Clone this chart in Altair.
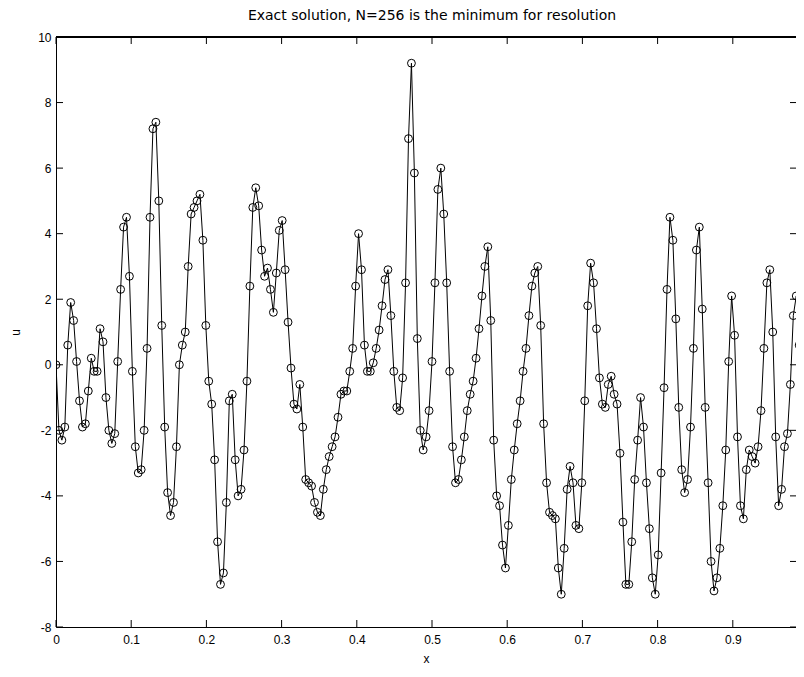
import altair as alt
import pandas as pd

N = 256
u_values = [
    0.0, -2.0, -2.3, -1.9, 0.6, 1.9, 1.35, 0.1, -1.1, -1.9,
    -1.8, -0.8, 0.2, -0.2, -0.2, 1.1, 0.7, -1.0, -2.0, -2.4,
    -2.1, 0.1, 2.3, 4.2, 4.5, 2.7, -0.2, -2.5, -3.3, -3.2,
    -2.0, 0.5, 4.5, 7.2, 7.4, 5.0, 1.2, -1.9, -3.9, -4.6,
    -4.2, -2.5, 0.0, 0.6, 1.0, 3.0, 4.6, 4.8, 5.0, 5.2,
    3.8, 1.2, -0.5, -1.2, -2.9, -5.4, -6.7, -6.35, -4.2, -1.1,
    -0.9, -2.9, -4.0, -3.8, -2.6, -0.5, 2.4, 4.8, 5.4, 4.85,
    3.5, 2.7, 2.95, 2.3, 1.6, 2.8, 4.1, 4.4, 2.9, 1.3,
    -0.1, -1.2, -1.35, -0.6, -1.9, -3.5, -3.6, -3.7, -4.2, -4.5,
    -4.6, -3.8, -3.2, -2.8, -2.5, -2.2, -1.6, -0.9, -0.8, -0.8,
    -0.2, 0.5, 2.4, 4.0, 2.9, 0.6, -0.2, -0.2, 0.06, 0.5,
    1.06, 1.8, 2.6, 2.9, 1.5, -0.2, -1.3, -1.4, -0.4, 2.5,
    6.9, 9.2, 5.85, 0.8, -2.0, -2.6, -2.2, -1.4, 0.1, 2.5,
    5.35, 6.0, 4.6, 2.5, -0.2, -2.5, -3.6, -3.5, -2.9, -2.2,
    -1.4, -0.9, -0.5, 0.2, 1.1, 2.1, 3.0, 3.6, 1.35, -2.3,
    -4.0, -4.3, -5.5, -6.2, -4.9, -3.5, -2.6, -1.8, -1.1, -0.2,
    0.5, 1.5, 2.4, 2.8, 3.0, 1.2, -1.8, -3.6, -4.5, -4.6,
    -4.7, -6.2, -7.0, -5.6, -3.8, -3.1, -3.6, -4.9, -5.0, -3.6,
    -1.1, 1.8, 3.1, 2.5, 1.1, -0.4, -1.2, -1.3, -0.6, -0.35,
    -0.9, -1.2, -2.7, -4.8, -6.7, -6.7, -5.4, -3.5, -2.3, -1.0,
    -1.9, -3.6, -5.0, -6.5, -7.0, -5.8, -3.3, -0.7, 2.3, 4.5,
    3.8, 1.4, -1.3, -3.2, -3.9, -3.5, -1.9, 0.5, 3.5, 4.2,
    1.7, -1.3, -3.6, -6.0, -6.9, -6.5, -5.6, -4.3, -2.6, 0.1,
    2.1, 0.9, -2.2, -4.3, -4.7, -3.2, -2.6, -2.8, -3.0, -2.5,
    -1.4, 0.5, 2.5, 2.9, 1.0, -2.2, -4.3, -3.8, -2.5, -2.1,
    -0.6, 1.5, 2.1, 0.6, -0.3, -0.6,
]
x_values = [i / N for i in range(N)]
x_ticks = [0, 0.1, 0.2, 0.3, 0.4, 0.5, 0.6, 0.7, 0.8, 0.9]
y_ticks = [-8, -6, -4, -2, 0, 2, 4, 6, 8, 10]

W, H = 740, 590
PX_PER_UNIT = 752
XMAX = W / PX_PER_UNIT
FONT = "Liberation Sans"

df = pd.DataFrame({"x": x_values, "u": u_values})
xt = pd.DataFrame({"x": x_ticks})
yt = pd.DataFrame({"u": y_ticks})

xs = alt.Scale(domain=[0, XMAX], nice=False, zero=False)
ys = alt.Scale(domain=[-8, 10], nice=False, zero=False)

x_axis = alt.Axis(values=x_ticks, title="x", ticks=False, grid=False,
                  domainColor="black", labelColor="black", labelFontSize=12,
                  labelFont=FONT, labelPadding=7, titleFont=FONT,
                  titleFontSize=12, titleFontWeight="normal", titlePadding=8,
                  titleColor="black", labelExpr="'' + datum.value",
                  labelFlush=False)
y_axis = alt.Axis(values=y_ticks, title="u", ticks=False, grid=False,
                  domainColor="black", labelColor="black", labelFontSize=12,
                  labelFont=FONT, labelPadding=5, titleFont=FONT,
                  titleFontSize=12, titleFontWeight="normal", titlePadding=15,
                  titleColor="black", labelExpr="'' + datum.value",
                  labelFlush=False)

line = alt.Chart(df).mark_line(color="black", strokeWidth=1, clip=True).encode(
    x=alt.X("x:Q", scale=xs, axis=x_axis),
    y=alt.Y("u:Q", scale=ys, axis=y_axis),
)
pts = alt.Chart(df).mark_point(shape="circle", size=62, filled=False,
                               color="black", strokeWidth=1, opacity=1,
                               clip=True).encode(
    x="x:Q", y="u:Q",
)

bottom_ticks = alt.Chart(xt).mark_rule(color="black", strokeWidth=1).encode(
    x="x:Q", y=alt.value(H), y2=alt.value(H - 7))
top_ticks = alt.Chart(xt).mark_rule(color="black", strokeWidth=1).encode(
    x="x:Q", y=alt.value(0), y2=alt.value(7))
left_ticks = alt.Chart(yt).mark_rule(color="black", strokeWidth=1).encode(
    y="u:Q", x=alt.value(0), x2=alt.value(7))
right_ticks = alt.Chart(yt).mark_rule(color="black", strokeWidth=1).encode(
    y="u:Q", x=alt.value(W - 6), x2=alt.value(W))
top_line = alt.Chart(xt).mark_rule(color="black", strokeWidth=1).encode(
    x=alt.value(0), x2=alt.value(W), y=alt.value(0))

chart = alt.layer(line, pts, bottom_ticks, top_ticks, left_ticks, right_ticks,
                  top_line).properties(
    width=W, height=H,
    title=alt.TitleParams("Exact solution, N=256 is the minimum for resolution",
                          fontSize=14, fontWeight="normal", font="DejaVu Sans",
                          color="black", anchor="middle", offset=8, dx=6),
    autosize=alt.AutoSizeParams(type="none"),
    padding={"left": 48, "top": 29, "right": 0, "bottom": 38},
    background="white",
).configure_view(stroke=None)

chart.save("out.html", embed_options={"renderer": "svg", "actions": False})
